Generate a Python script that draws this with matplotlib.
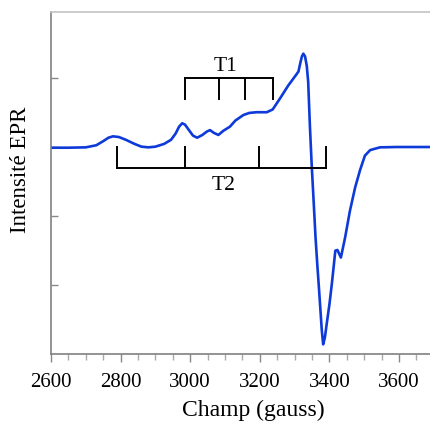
import matplotlib
matplotlib.use("Agg")
import matplotlib.pyplot as plt
from matplotlib.ticker import MultipleLocator

field = [2600, 2650, 2700, 2730, 2750, 2765, 2778, 2795, 2815, 2840, 2860, 2880,
         2900, 2925, 2945, 2958, 2968, 2977, 2985, 2995, 3008, 3020, 3035, 3048,
         3057, 3068, 3081, 3095, 3114, 3130, 3153, 3170, 3191, 3220, 3237, 3258,
         3282, 3301, 3311, 3317, 3321, 3325, 3330, 3335, 3339, 3344, 3349, 3354,
         3360, 3365, 3370, 3374, 3378, 3382, 3387, 3392, 3400, 3407, 3417, 3423,
         3433, 3445, 3459, 3474, 3488, 3502, 3517, 3545, 3593, 3640, 3690]
signal = [-0.005, -0.005, 0.0, 0.03, 0.09, 0.14, 0.16, 0.15, 0.11, 0.05, 0.01, 0.0,
          0.01, 0.05, 0.11, 0.20, 0.30, 0.35, 0.33, 0.26, 0.17, 0.14, 0.18, 0.23,
          0.25, 0.21, 0.18, 0.24, 0.30, 0.39, 0.47, 0.50, 0.51, 0.51, 0.55, 0.71,
          0.90, 1.03, 1.10, 1.24, 1.32, 1.36, 1.32, 1.18, 0.95, 0.30, -0.25, -0.72,
          -1.30, -1.69, -2.05, -2.35, -2.65, -2.86, -2.76, -2.57, -2.28, -1.98, -1.50, -1.49,
          -1.60, -1.31, -0.92, -0.58, -0.33, -0.12, -0.04, 0.0, 0.005, 0.005, 0.005]

t1_pos = [2985, 3083, 3157, 3237]
t2_pos = [2789, 2985, 3198, 3390]
t1_label = "T1"
t2_label = "T2"
x_ticks = [2600, 2800, 3000, 3200, 3400, 3600]
y_ticks = [-2, -1, 0, 1]

plt.rcParams['font.family'] = ['Liberation Serif', 'DejaVu Serif']
fig = plt.figure(figsize=(4.3, 4.25), dpi=100)
ax = fig.add_axes([51/430, (425-354)/425, 1 - 51/430, (354-12)/425])

ax.plot(field, signal, color='#0d3ad8', lw=1.9, solid_joinstyle='round', solid_capstyle='round')

# T1 bracket
ax.plot([t1_pos[0], t1_pos[-1]], [1.0, 1.0], color='black', lw=1.4)
for p in t1_pos:
    ax.plot([p, p], [1.0, 0.70], color='black', lw=1.4)
ax.text(3100, 1.04, t1_label, ha='center', va='bottom', fontsize=15.5)

# T2 bracket
ax.plot([t2_pos[0], t2_pos[-1]], [-0.30, -0.30], color='black', lw=1.4)
for p in t2_pos:
    ax.plot([p, p], [-0.30, 0.0], color='black', lw=1.4)
ax.text(3097, -0.42, t2_label, ha='center', va='top', fontsize=15.5)

ax.set_xlim(2600, 3689)
ax.set_ylim(-3.0, 1.965)
ax.set_xticks(x_ticks)
ax.xaxis.set_minor_locator(MultipleLocator(50))
ax.set_yticks(y_ticks)
ax.set_yticklabels([])
ax.tick_params(axis='x', direction='out', length=6, width=1, color='#888888', labelsize=15, pad=8)
ax.tick_params(axis='x', which='minor', direction='out', length=4, width=1, color='#aaaaaa')
ax.tick_params(axis='y', direction='in', length=5, width=1, color='#888888')

for s in ['left', 'bottom']:
    ax.spines[s].set_color('#808080')
    ax.spines[s].set_linewidth(1.2)
ax.spines['top'].set_color('#c4c4c4')
ax.spines['top'].set_linewidth(1.2)
ax.spines['right'].set_visible(False)

ax.set_xlabel('Champ (gauss)', fontsize=17)
ax.set_ylabel('Intensité EPR', fontsize=16.5)
ax.xaxis.set_label_coords(0.533, -0.135)
ax.yaxis.set_label_coords(-0.052, 0.538)

fig.savefig('out.png', dpi=100)
